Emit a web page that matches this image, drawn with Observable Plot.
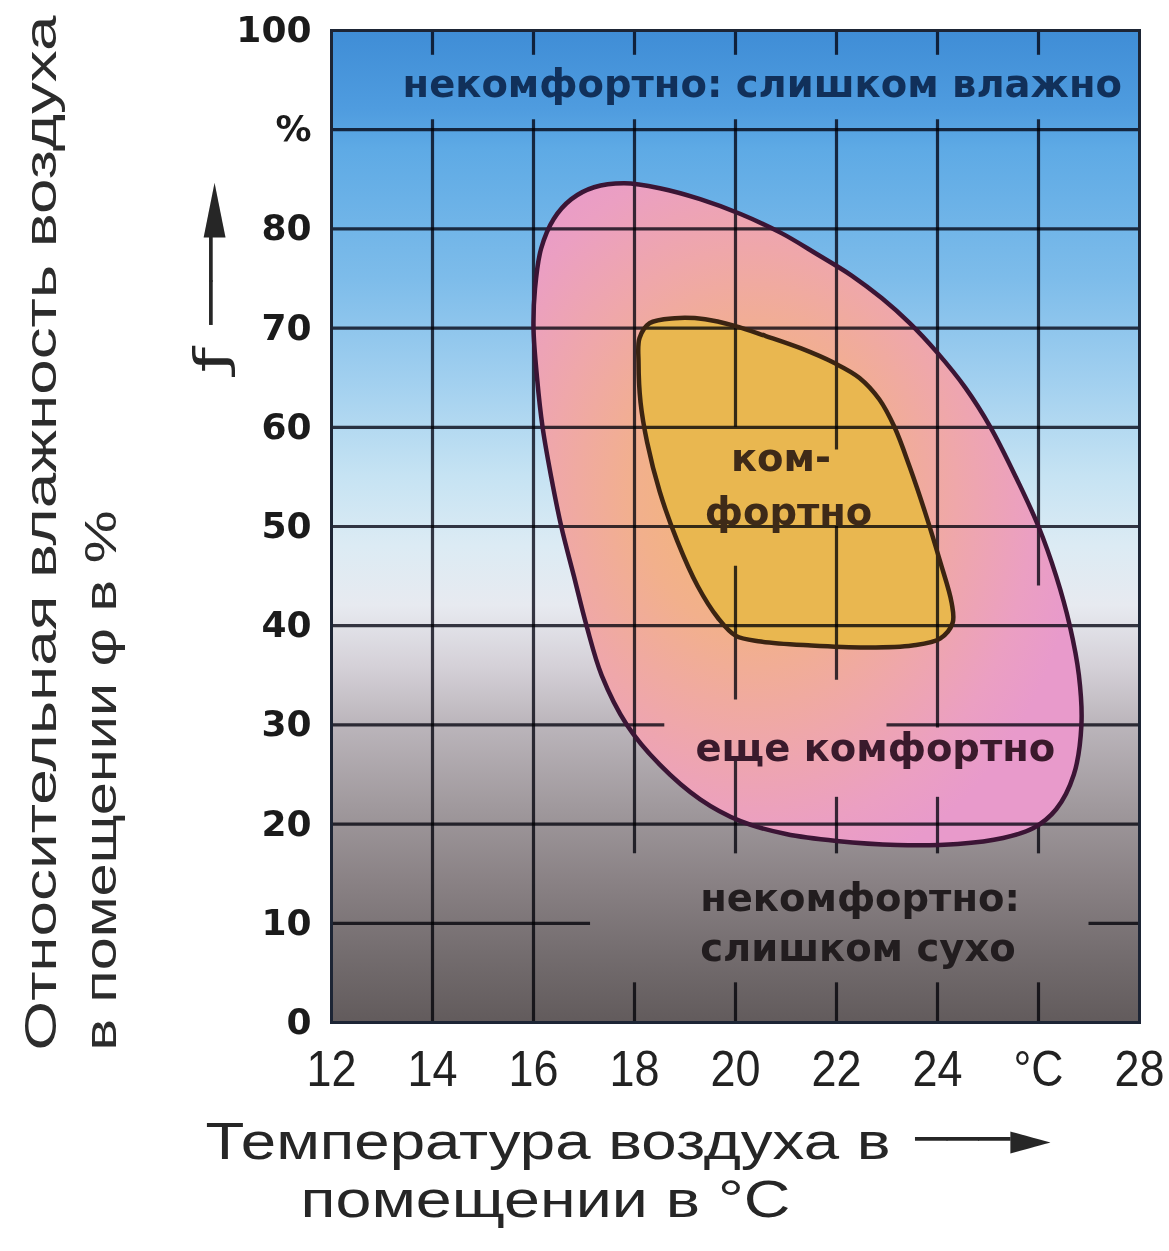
<!DOCTYPE html>
<html>
<head>
<meta charset="utf-8">
<script src="https://cdn.jsdelivr.net/npm/d3@7"></script>
<script src="https://cdn.jsdelivr.net/npm/@observablehq/plot@0.6"></script>
<style>
  html, body { margin: 0; padding: 0; background: #ffffff; }
  #chart svg { display: block; }
</style>
</head>
<body>
<div id="chart"></div>
<script>
// ---------- data ----------
const tempDomain = [12, 28];
const humidityDomain = [0, 100];

const tempTicks = [12, 14, 16, 18, 20, 22, 24, 26, 28];
const tempTickLabels = ["12", "14", "16", "18", "20", "22", "24", "°C", "28"];
const humidityTicks = [0, 10, 20, 30, 40, 50, 60, 70, 80, 90, 100];
const humidityTickLabels = ["0", "10", "20", "30", "40", "50", "60", "70", "80", "%", "100"];

// outer zone "еще комфортно" (temperature °C, humidity %), clockwise from the left side
const outerTemp = [16.0, 16.03, 16.15, 16.4, 16.75, 17.2, 17.8, 18.5, 19.3, 20.1, 20.9, 21.6, 22.3, 22.9, 23.45, 24.0, 24.55, 25.05, 25.55, 26.0, 26.35, 26.62, 26.8, 26.85, 26.7, 26.35, 25.9, 25.3, 24.4, 23.2, 22.0, 21.0, 20.1, 19.3, 18.5, 17.85, 17.35, 17.05, 16.8, 16.55, 16.35, 16.18, 16.07];
const outerHum  = [70.0, 74.0, 78.0, 81.0, 83.0, 84.2, 84.6, 84.1, 83.0, 81.5, 79.6, 77.5, 75.3, 73.0, 70.5, 67.5, 64.0, 60.0, 55.0, 50.0, 45.0, 40.0, 35.0, 30.0, 25.0, 21.5, 19.6, 18.6, 18.0, 17.9, 18.3, 19.0, 20.3, 22.5, 26.0, 30.0, 35.0, 40.0, 45.0, 50.0, 55.0, 60.0, 65.0];

// inner zone "комфортно"
const innerTemp = [18.08, 18.1, 18.3, 18.8, 19.4, 20.0, 20.6, 21.3, 21.95, 22.45, 22.85, 23.15, 23.45, 23.75, 24.05, 24.28, 24.3, 24.05, 23.5, 22.6, 21.5, 20.5, 20.0, 19.65, 19.25, 18.85, 18.5, 18.25, 18.12];
const innerHum  = [66.5, 69.0, 70.5, 71.0, 70.9, 70.2, 69.2, 67.95, 66.5, 65.0, 62.8, 60.0, 56.0, 51.5, 46.5, 42.3, 40.3, 38.7, 38.0, 37.8, 38.0, 38.4, 39.0, 40.8, 44.0, 48.5, 53.5, 58.5, 62.5];

// grid segments: vertical [temp, humFrom, humTo], horizontal [hum, tempFrom, tempTo]
const gridVertical = [
  [14, 0, 91], [14, 97.5, 100],
  [16, 0, 91], [16, 97.5, 100],
  [18, 17, 91], [18, 0, 4], [18, 97.5, 100],
  [20, 60, 91], [20, 32.5, 46], [20, 17, 26.4], [20, 0, 4], [20, 97.5, 100],
  [22, 57.7, 91], [22, 34.5, 50], [22, 17, 22.7], [22, 0, 4], [22, 97.5, 100],
  [24, 29.7, 91], [24, 17, 22.7], [24, 0, 4], [24, 97.5, 100],
  [26, 44, 91], [26, 17, 20], [26, 0, 4], [26, 97.5, 100]
];
const gridHorizontal = [
  [90, 12, 28], [80, 12, 28], [70, 12, 28], [60, 12, 28], [50, 12, 28], [40, 12, 28],
  [30, 12, 18.6], [30, 23.0, 28],
  [20, 12, 28],
  [10, 12, 17.13], [10, 27.0, 28]
];

// zone labels
const humidLabel = [{t: 20.53, h: 94.5, text: "некомфортно: слишком влажно"}];
const comfortLabels = [{t: 20.9, h: 56.8, text: "ком-"}, {t: 21.05, h: 51.4, text: "фортно"}];
const stillComfortLabel = [{t: 22.77, h: 27.6, text: "еще комфортно"}];
const dryLabels = [{t: 19.3, h: 12.5, text: "некомфортно:"}, {t: 19.3, h: 7.4, text: "слишком сухо"}];

const xTitle1 = "Температура воздуха в";
const xTitle2 = "помещении в °C";
const xArrow = "───►";
const yTitle1 = "Относительная влажность воздуха";
const yTitle2 = "в помещении φ в %";
const yArrow = "ƒ ──►";

// ---------- build ----------
const outer = outerTemp.map((t, i) => ({t, h: outerHum[i]}));
const inner = innerTemp.map((t, i) => ({t, h: innerHum[i]}));
const background = [{t1: tempDomain[0], t2: tempDomain[1], h1: humidityDomain[0], h2: humidityDomain[1]}];

const bgStops = [
  [0.00, "#3f8dd6"], [0.08, "#4f9cdf"], [0.12, "#5eaae5"], [0.25, "#7dbcea"],
  [0.35, "#a0cfef"], [0.45, "#c6e3f3"], [0.52, "#dcebf4"], [0.58, "#e7eaf0"],
  [0.64, "#d5d1d8"], [0.70, "#bbb5bb"], [0.78, "#a19a9e"], [0.86, "#898184"],
  [0.93, "#746d6f"], [1.00, "#625b5c"]
];
const pinkStops = [
  [0.00, "#f3b872"], [0.35, "#f2b08c"], [0.62, "#efa7aa"], [0.85, "#eb9fc2"], [1.00, "#e89acb"]
];

function gradientDefs() {
  const defs = d3.create("svg:defs");
  const bg = defs.append("linearGradient").attr("id", "bgGrad")
    .attr("x1", 0).attr("y1", 0).attr("x2", 0).attr("y2", 1);
  bgStops.forEach(([o, c]) => bg.append("stop").attr("offset", o).attr("stop-color", c));
  const pk = defs.append("radialGradient").attr("id", "pinkGrad")
    .attr("cx", 0.4).attr("cy", 0.47).attr("r", 0.6);
  pinkStops.forEach(([o, c]) => pk.append("stop").attr("offset", o).attr("stop-color", c));
  return defs.node();
}

const gridStyle = {stroke: "#3a3a46", strokeWidth: 3.2, mixBlendMode: "multiply"};
const zoneFont = {fontFamily: "DejaVu Sans, Verdana, sans-serif", fontWeight: "bold", fontSize: 38.5};

const chart = Plot.plot({
  width: 1169,
  height: 1251,
  marginTop: 30,
  marginLeft: 331,
  marginRight: 30,
  marginBottom: 229,
  x: {domain: tempDomain},
  y: {domain: humidityDomain},
  style: {background: "#ffffff", fontFamily: "Liberation Sans, Arial, sans-serif", overflow: "visible"},
  marks: [
    gradientDefs,
    Plot.rect(background, {x1: "t1", x2: "t2", y1: "h1", y2: "h2", fill: "url(#bgGrad)"}),
    Plot.line(outer, {x: "t", y: "h", curve: "catmull-rom-closed", fill: "url(#pinkGrad)", stroke: "none"}),
    Plot.line(inner, {x: "t", y: "h", curve: "catmull-rom-closed", fill: "#e9b750", stroke: "none"}),
    Plot.ruleX(gridVertical, {x: d => d[0], y1: d => d[1], y2: d => d[2], ...gridStyle}),
    Plot.ruleY(gridHorizontal, {y: d => d[0], x1: d => d[1], x2: d => d[2], ...gridStyle}),
    Plot.line(outer, {x: "t", y: "h", curve: "catmull-rom-closed", fill: "none", stroke: "#3b1535", strokeWidth: 4.5}),
    Plot.line(inner, {x: "t", y: "h", curve: "catmull-rom-closed", fill: "none", stroke: "#3b2412", strokeWidth: 4.5}),
    Plot.frame({stroke: "#1d2535", strokeWidth: 3}),
    Plot.text(humidLabel, {x: "t", y: "h", text: "text", fill: "#11305a", ...zoneFont}),
    Plot.text(comfortLabels, {x: "t", y: "h", text: "text", fill: "#3e2a18", ...zoneFont}),
    Plot.text(stillComfortLabel, {x: "t", y: "h", text: "text", fill: "#3a1a2c", ...zoneFont}),
    Plot.text(dryLabels, {x: "t", y: "h", text: "text", fill: "#221d1f", textAnchor: "start", ...zoneFont}),
    Plot.axisY({
      ticks: humidityTicks,
      tickFormat: d => humidityTickLabels[humidityTicks.indexOf(d)],
      tickSize: 0, tickPadding: 20, label: null,
      fontSize: 36, fontWeight: "bold", fontFamily: "DejaVu Sans, Verdana, sans-serif", color: "#1b1b1b"
    }),
    Plot.axisX({
      ticks: tempTicks,
      tickFormat: d => tempTickLabels[tempTicks.indexOf(d)],
      tickSize: 0, tickPadding: 28, label: null,
      fontSize: 50, fontFamily: "Liberation Sans, Arial, sans-serif", color: "#222222"
    }),
    Plot.text([xTitle1], {text: d => d, frameAnchor: "bottom-left", dx: -126, dy: 136, textAnchor: "start", fontSize: 52, fill: "#262626"}),
    Plot.text([xTitle2], {text: d => d, frameAnchor: "bottom-left", dx: -31, dy: 194, textAnchor: "start", fontSize: 52, fill: "#262626"}),
    Plot.text([xArrow], {text: d => d, frameAnchor: "bottom-left", dx: 584, dy: 131, textAnchor: "start", fontSize: 44, fontFamily: "DejaVu Sans, sans-serif", fill: "#262626"}),
    Plot.text([yTitle1], {text: d => d, frameAnchor: "bottom-left", dx: -276, dy: 28, rotate: -90, textAnchor: "start", fontSize: 44, fill: "#2c2c2c"}),
    Plot.text([yTitle2], {text: d => d, frameAnchor: "bottom-left", dx: -216, dy: 28, rotate: -90, textAnchor: "start", fontSize: 44, fill: "#2c2c2c"}),
    Plot.text([yArrow], {text: d => d, frameAnchor: "top-left", dx: -137, dy: 342, rotate: -90, textAnchor: "start", fontSize: 44, fontFamily: "DejaVu Sans, sans-serif", fill: "#262626"})
  ]
});

// stretch titles to the reference's text extents
const stretch = [[xTitle1, 685], [xTitle2, 490], [xArrow, 135], [yTitle1, 1035], [yTitle2, 540], [yArrow, 190]];
d3.select(chart).selectAll("text").each(function () {
  const found = stretch.find(([s]) => s === this.textContent);
  if (found) d3.select(this).attr("textLength", found[1]).attr("lengthAdjust", "spacingAndGlyphs");
});
// condensed x tick labels
d3.select(chart).selectAll('g[aria-label="x-axis tick label"] text').each(function () {
  d3.select(this).attr("textLength", 25 * this.textContent.length).attr("lengthAdjust", "spacingAndGlyphs");
});

document.getElementById("chart").appendChild(chart);
</script>
</body>
</html>
